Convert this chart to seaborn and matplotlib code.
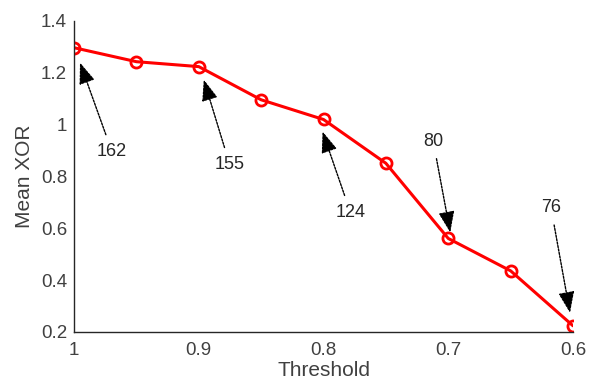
import matplotlib
matplotlib.use("Agg")
import matplotlib.pyplot as plt
import seaborn as sns
import pandas as pd
from matplotlib.transforms import offset_copy

thresholds = [1.0, 0.95, 0.9, 0.85, 0.8, 0.75, 0.7, 0.65, 0.6]
mean_xor = [1.297, 1.243, 1.224, 1.096, 1.020, 0.851, 0.561, 0.436, 0.224]

annot_thresholds = [1.0, 0.9, 0.8, 0.7, 0.6]
annot_labels = ["162", "155", "124", "80", "76"]

x_ticks = [1.0, 0.9, 0.8, 0.7, 0.6]
x_ticklabels = ["1", "0.9", "0.8", "0.7", "0.6"]
y_ticks = [0.2, 0.4, 0.6, 0.8, 1.0, 1.2, 1.4]
y_ticklabels = ["0.2", "0.4", "0.6", "0.8", "1", "1.2", "1.4"]

sns.set_style("white")
plt.rcParams["font.family"] = ["Liberation Sans", "DejaVu Sans"]

df = pd.DataFrame({"Threshold": thresholds, "Mean XOR": mean_xor})

fig = plt.figure(figsize=(5.89, 3.88), dpi=100)
ax = fig.add_axes([74 / 589, 1 - 332 / 388, (573 - 74) / 589, (332 - 21) / 388])

sns.lineplot(data=df, x="Threshold", y="Mean XOR", sort=False, ax=ax,
             color="#ff0000", linewidth=2.2, marker="o", markersize=8,
             markerfacecolor="none", markeredgecolor="#ff0000", markeredgewidth=2)

ax.set_xlim(1.0, 0.6)
ax.set_ylim(0.2, 1.4)
ax.set_xticks(x_ticks)
ax.set_xticklabels(x_ticklabels)
ax.set_yticks(y_ticks)
ax.set_yticklabels(y_ticklabels)

textc = "#404040"
ax.tick_params(direction="in", length=4, width=0.8, colors="#262626",
               labelcolor=textc, labelsize=13.5)
ax.tick_params(axis="x", pad=7.5)
ax.tick_params(axis="y", pad=5)
for s in ["top", "right"]:
    ax.spines[s].set_visible(False)
for s in ["left", "bottom"]:
    ax.spines[s].set_color("#262626")
    ax.spines[s].set_linewidth(1.0)

ax.set_xlabel("Threshold", fontsize=15, color=textc, labelpad=1)
ax.set_ylabel("Mean XOR", fontsize=15, color=textc, labelpad=5)

# annotation arrow geometry (pixels): tip offset from point, text offset from tip
tip_offsets = [(6, -15), (5, -13), (-1, -12), (2, 6), (-3, 13)]
text_offsets = [(32, -89), (26, -85), (28, -81), (-17, 91), (-19, 105)]

lookup = dict(zip(thresholds, mean_xor))
for t, lab, (tdx, tdy), (xdx, xdy) in zip(annot_thresholds, annot_labels, tip_offsets, text_offsets):
    tr = offset_copy(ax.transData, fig=fig, x=tdx, y=tdy, units="dots")
    ax.annotate(lab, xy=(t, lookup[t]), xycoords=tr,
                xytext=(xdx, xdy), textcoords="offset pixels",
                ha="center", va="center", fontsize=13, color="#262626",
                arrowprops=dict(arrowstyle="-|>,head_length=1.0,head_width=0.38",
                                color="black", lw=1.0, linestyle=(0, (1.5, 1)),
                                shrinkA=4, shrinkB=0, mutation_scale=13),
                annotation_clip=False)

fig.savefig("out.png", dpi=100)
